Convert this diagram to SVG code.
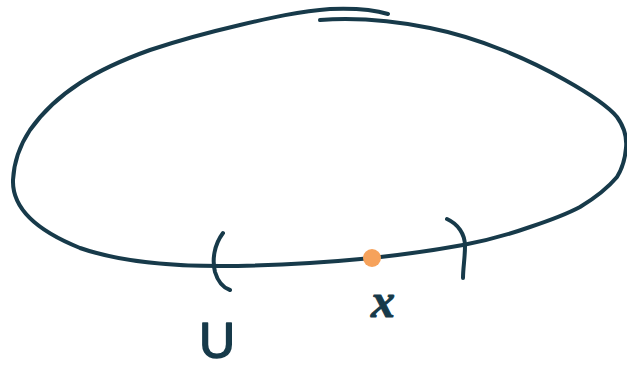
<svg xmlns="http://www.w3.org/2000/svg" width="627" height="370" viewBox="0 0 627 370">
<style>
.ink{fill:none;stroke:#173a4a;stroke-width:4;stroke-linecap:round;stroke-linejoin:round}
.lbl{fill:#173a4a;stroke:#173a4a;stroke-linejoin:round}
</style>
<rect width="627" height="370" fill="#ffffff"/>
<g id="loop">
<path class="ink" d="M320,20 C360,17 400,22 430,28 C480,38 530,60 565,80 C590,94 608,106 617,117 C625,128 627,138 626,148 C625,160 622,169 617,177 C606,190 595,198 580,207 C565,215 548,221 530,227 C510,234 490,240 463,245 C430,251 400,255 372,258 C320,263 270,266 220,266 C170,266 120,262 80,248 C40,232 12,210 13,180 C14,160 20,145 30,130 C44,110 60,96 80,83 C100,70 125,59 150,50 C180,40 210,32 240,25 C270,18 300,11 330,9 C355,8 375,10 388,14"/>
</g>
<g id="bracket-left">
<path class="ink" d="M223,233 C214,245 212,260 215,272 C218,282 224,288 230,290" stroke-width="5"/>
</g>
<g id="bracket-right">
<path class="ink" d="M447,219 C458,224 465,234 465,246 C465,258 463,268 463,278" stroke-width="5"/>
</g>
<g id="point-x">
<circle cx="372" cy="258" r="9" fill="#f6a25b"/>
<text class="lbl" x="371" y="317" font-family="Liberation Serif, serif" font-style="italic" font-weight="bold" font-size="48" stroke-width="1">x</text>
</g>
<g id="label-U">
<text class="lbl" x="199" y="358" font-family="Liberation Sans, sans-serif" font-size="50" stroke-width="1.5">U</text>
</g>
</svg>
